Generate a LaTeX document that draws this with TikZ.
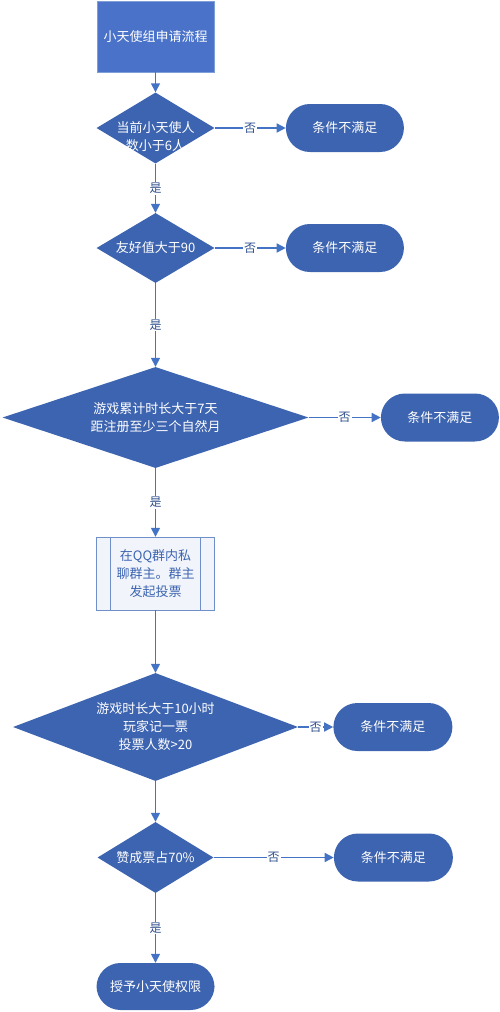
\documentclass[tikz,border=0pt]{standalone}
\usepackage{fontspec}
\setmainfont{Noto Sans CJK SC}
\usepackage{xcolor}
\usepackage{tikz}
\usetikzlibrary{arrows.meta,positioning,shapes.geometric}
\definecolor{HeadBlue}{HTML}{4A72C9}
\definecolor{HeadEdge}{HTML}{7F9FD8}
\definecolor{ShapeBlue}{HTML}{3D64B0}
\definecolor{LineBlue}{HTML}{4472C4}
\definecolor{PaleBlue}{HTML}{F1F5FB}
\definecolor{ProcEdge}{HTML}{6F8FC8}

\begin{document}
\begin{tikzpicture}[
  x=1pt,y=-1pt,
  every node/.style={font=\fontsize{13}{18}\selectfont},
  head/.style={draw=HeadEdge,fill=HeadBlue,text=white,minimum width=117pt,minimum height=71pt,align=center},
  dec/.style={diamond,fill=ShapeBlue,text=white,inner sep=0pt,align=center},
  fail/.style={fill=ShapeBlue,text=white,rounded corners=24pt,minimum width=118pt,minimum height=48pt,align=center},
  proc/.style={draw=ProcEdge,fill=PaleBlue,text=ShapeBlue,minimum width=118pt,minimum height=73pt,align=center},
  procline/.style={draw=ProcEdge,line width=0.8pt},
  arr/.style={-{Triangle[length=9pt,width=9pt]},line width=1.5pt,draw=LineBlue},
  tag/.style={fill=white,inner sep=1pt,text=ShapeBlue!80!black,font=\fontsize{12}{14}\selectfont}
]
\useasboundingbox (0,0) rectangle (499,1012);
% main column
\node[head] (start) at (155.5,36.5) {小天使组申请流程};
\node[dec,minimum width=118pt,minimum height=71pt] (dec1) at (155.5,128) {};
\node[text=white,align=center,inner sep=0pt] (dec1txt) at (155.5,137) {当前小天使人\\数小于6人};
\node[dec,aspect=1.66,minimum width=118pt,minimum height=70pt] (dec2) at (155.5,248) {友好值大于90};
\node[dec,aspect=3.03,minimum width=306pt,minimum height=101pt] (dec3) at (155.5,417.5) {游戏累计时长大于7天\\距注册至少三个自然月};
\node[proc] (vote) at (155.5,573.5) {在QQ群内私\\聊群主。群主\\发起投票};
\node[dec,aspect=2.64,minimum width=285pt,minimum height=108pt] (dec4) at (155.5,727) {游戏时长大于10小时\\玩家记一票\\投票人数>20};
\node[dec,aspect=1.63,minimum width=116pt,minimum height=71pt] (dec5) at (155.5,857.5) {赞成票占70\%};
\node[fail,minimum height=47pt] (grant) at (155.5,986.5) {授予小天使权限};
% rejected branches
\node[fail,right=71pt of dec1] (fail1) {条件不满足};
\node[fail,right=71pt of dec2] (fail2) {条件不满足};
\node[fail,right=72pt of dec3] (fail3) {条件不满足};
\node[fail,right=35pt of dec4,minimum width=119pt] (fail4) {条件不满足};
\node[fail,right=120pt of dec5,minimum width=119pt] (fail5) {条件不满足};
% predefined process sides
\draw[procline] ([xshift=14pt]vote.north west) -- ([xshift=14pt]vote.south west);
\draw[procline] ([xshift=-14pt]vote.north east) -- ([xshift=-14pt]vote.south east);
% connectors
\draw[arr] (start)--(dec1);
\draw[arr] (dec1)--node[tag]{是}(dec2);
\draw[arr] (dec2)--node[tag]{是}(dec3);
\draw[arr] (dec3)--node[tag]{是}(vote);
\draw[arr] (vote)--(dec4);
\draw[arr] (dec4)--(dec5);
\draw[arr] (dec5)--node[tag]{是}(grant);
\draw[arr] (dec1)--node[tag]{否}(fail1);
\draw[arr] (dec2)--node[tag]{否}(fail2);
\draw[arr] (dec3)--node[tag]{否}(fail3);
\draw[arr] (dec4)--node[tag]{否}(fail4);
\draw[arr] (dec5)--node[tag]{否}(fail5);
\end{tikzpicture}
\end{document}
